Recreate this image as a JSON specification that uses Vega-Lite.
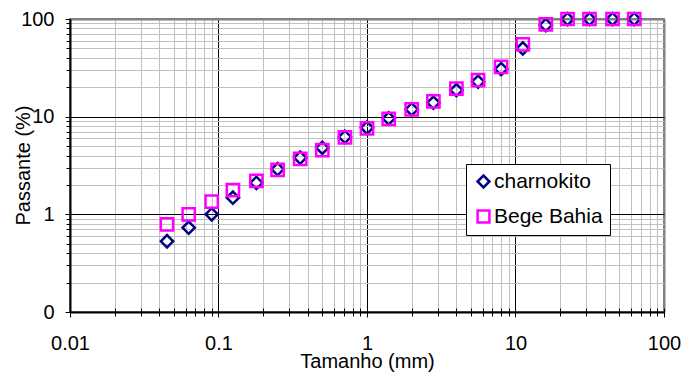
{
  "$schema": "https://vega.github.io/schema/vega-lite/v6.json",
  "autosize": "none",
  "width": 594,
  "height": 293,
  "padding": {"left": 70, "top": 19, "right": 19, "bottom": 64},
  "background": "white",
  "config": {
    "font": "Liberation Sans",
    "view": {"stroke": "#808080", "strokeWidth": 2},
    "axis": {"labelFont": "Liberation Sans", "titleFont": "Liberation Sans", "labelColor": "black", "titleColor": "black", "titleFontWeight": "normal"}
  },
  "data": {
    "values": [
      {"size": 0.045, "series": "charnokito", "pass": 0.53},
      {"size": 0.063, "series": "charnokito", "pass": 0.73},
      {"size": 0.09, "series": "charnokito", "pass": 1.0},
      {"size": 0.125, "series": "charnokito", "pass": 1.48},
      {"size": 0.18, "series": "charnokito", "pass": 2.1},
      {"size": 0.25, "series": "charnokito", "pass": 2.9},
      {"size": 0.355, "series": "charnokito", "pass": 3.8},
      {"size": 0.5, "series": "charnokito", "pass": 4.8},
      {"size": 0.71, "series": "charnokito", "pass": 6.2},
      {"size": 1.0, "series": "charnokito", "pass": 7.7},
      {"size": 1.4, "series": "charnokito", "pass": 9.6},
      {"size": 2.0, "series": "charnokito", "pass": 11.9},
      {"size": 2.8, "series": "charnokito", "pass": 13.9},
      {"size": 4.0, "series": "charnokito", "pass": 18.7},
      {"size": 5.6, "series": "charnokito", "pass": 22.8},
      {"size": 8.0, "series": "charnokito", "pass": 30.7},
      {"size": 11.2, "series": "charnokito", "pass": 50},
      {"size": 16, "series": "charnokito", "pass": 86.6},
      {"size": 22.4, "series": "charnokito", "pass": 99.8},
      {"size": 31.5, "series": "charnokito", "pass": 99.8},
      {"size": 45, "series": "charnokito", "pass": 99.8},
      {"size": 63, "series": "charnokito", "pass": 99.8},
      {"size": 0.045, "series": "Bege Bahia", "pass": 0.79},
      {"size": 0.063, "series": "Bege Bahia", "pass": 1.0},
      {"size": 0.09, "series": "Bege Bahia", "pass": 1.35},
      {"size": 0.125, "series": "Bege Bahia", "pass": 1.77},
      {"size": 0.18, "series": "Bege Bahia", "pass": 2.2},
      {"size": 0.25, "series": "Bege Bahia", "pass": 2.85},
      {"size": 0.355, "series": "Bege Bahia", "pass": 3.7},
      {"size": 0.5, "series": "Bege Bahia", "pass": 4.55},
      {"size": 0.71, "series": "Bege Bahia", "pass": 6.15},
      {"size": 1.0, "series": "Bege Bahia", "pass": 7.6},
      {"size": 1.4, "series": "Bege Bahia", "pass": 9.5},
      {"size": 2.0, "series": "Bege Bahia", "pass": 11.9},
      {"size": 2.8, "series": "Bege Bahia", "pass": 14.3},
      {"size": 4.0, "series": "Bege Bahia", "pass": 19.4},
      {"size": 5.6, "series": "Bege Bahia", "pass": 23.7},
      {"size": 8.0, "series": "Bege Bahia", "pass": 32.4},
      {"size": 11.2, "series": "Bege Bahia", "pass": 55},
      {"size": 16, "series": "Bege Bahia", "pass": 88},
      {"size": 22.4, "series": "Bege Bahia", "pass": 100},
      {"size": 31.5, "series": "Bege Bahia", "pass": 100},
      {"size": 45, "series": "Bege Bahia", "pass": 100},
      {"size": 63, "series": "Bege Bahia", "pass": 100}
    ]
  },
  "resolve": {
    "scale": {"x": "shared", "y": "shared"},
    "axis": {"x": "independent", "y": "independent"}
  },
  "layer": [
    {
      "mark": {"type": "point", "opacity": 0},
      "encoding": {
        "x": {
          "field": "size", "type": "quantitative",
          "scale": {"type": "log", "domain": [0.01, 100], "nice": false},
          "axis": {
            "orient": "bottom",
            "values": [0.02,0.03,0.04,0.05,0.06,0.07,0.08,0.09,0.2,0.3,0.4,0.5,0.6,0.7,0.8,0.9,2,3,4,5,6,7,8,9,20,30,40,50,60,70,80,90],
            "grid": true, "gridColor": "#c0c0c0", "gridWidth": 1,
            "ticks": true, "tickSize": 4, "tickColor": "black", "tickWidth": 1,
            "labels": false, "domain": false, "title": null
          }
        },
        "y": {
          "field": "pass", "type": "quantitative",
          "scale": {"type": "log", "domain": [0.1, 100], "nice": false},
          "axis": {
            "orient": "left",
            "values": [0.2,0.3,0.4,0.5,0.6,0.7,0.8,0.9,2,3,4,5,6,7,8,9,20,30,40,50,60,70,80,90],
            "grid": true, "gridColor": "#c0c0c0", "gridWidth": 1,
            "ticks": true, "tickSize": 4, "tickColor": "black", "tickWidth": 1,
            "labels": false, "domain": false, "title": null
          }
        }
      }
    },
    {
      "mark": {"type": "point", "opacity": 0},
      "encoding": {
        "x": {
          "field": "size", "type": "quantitative",
          "axis": {
            "orient": "bottom",
            "values": [0.02,0.03,0.04,0.05,0.06,0.07,0.08,0.09,0.1,0.2,0.3,0.4,0.5,0.6,0.7,0.8,0.9,1,2,3,4,5,6,7,8,9,10,20,30,40,50,60,70,80,90,100],
            "grid": false,
            "ticks": true, "tickSize": -4, "tickColor": "black", "tickWidth": 1,
            "labels": false, "domain": false, "title": null
          }
        },
        "y": {"field": "pass", "type": "quantitative", "axis": null}
      }
    },
    {
      "mark": {"type": "point", "opacity": 0},
      "encoding": {
        "x": {
          "field": "size", "type": "quantitative",
          "axis": {
            "orient": "bottom",
            "values": [0.01, 0.1, 1, 10, 100],
            "format": "~g",
            "grid": true,
            "gridColor": {"condition": {"test": "datum.value >= 100", "value": "#808080"}, "value": "#000000"},
            "gridWidth": {"condition": {"test": "datum.value >= 100", "value": 2}, "value": 1},
            "ticks": true, "tickSize": 5, "tickColor": "black", "tickWidth": 1,
            "domain": true, "domainColor": "black", "domainWidth": 2,
            "labelFontSize": 20, "labelPadding": 16, "labelFlush": false,
            "title": "Tamanho (mm)", "titleFontSize": 20,
            "titleY": 55, "titleBaseline": "alphabetic"
          }
        },
        "y": {
          "field": "pass", "type": "quantitative",
          "axis": {
            "orient": "left",
            "values": [0.1, 1, 10, 100],
            "labelExpr": "datum.value < 1 ? '0' : format(datum.value, '~g')",
            "grid": true,
            "gridColor": {"condition": {"test": "datum.value >= 100", "value": "#808080"}, "value": "#000000"},
            "gridWidth": {"condition": {"test": "datum.value >= 100", "value": 2}, "value": 1},
            "ticks": true, "tickSize": 5, "tickColor": "black", "tickWidth": 1,
            "domain": true, "domainColor": "black", "domainWidth": 2,
            "labelFontSize": 20, "labelPadding": 11, "labelFlush": false,
            "title": "Passante (%)", "titleFontSize": 20,
            "titleX": -41, "titleY": 146, "titleBaseline": "alphabetic", "titleAngle": -90, "titleAlign": "center"
          }
        }
      }
    },
    {
      "mark": {"type": "point", "filled": false, "size": 150, "strokeWidth": 2.5, "opacity": 1},
      "encoding": {
        "x": {"field": "size", "type": "quantitative", "axis": null},
        "y": {"field": "pass", "type": "quantitative", "axis": null},
        "color": {
          "field": "series", "type": "nominal",
          "scale": {"domain": ["charnokito", "Bege Bahia"], "range": ["#000080", "#FF00FF"]},
          "legend": {
            "title": null, "orient": "none", "legendX": 396, "legendY": 145,
            "direction": "vertical",
            "strokeColor": "black", "fillColor": "white", "padding": 7,
            "labelFontSize": 21, "labelFont": "Liberation Sans", "labelColor": "black",
            "labelOffset": 0, "rowPadding": 12,
            "symbolSize": 140, "symbolStrokeWidth": 2.5
          }
        },
        "shape": {
          "field": "series", "type": "nominal",
          "scale": {"domain": ["charnokito", "Bege Bahia"], "range": ["diamond", "square"]}
        }
      }
    }
  ]
}
